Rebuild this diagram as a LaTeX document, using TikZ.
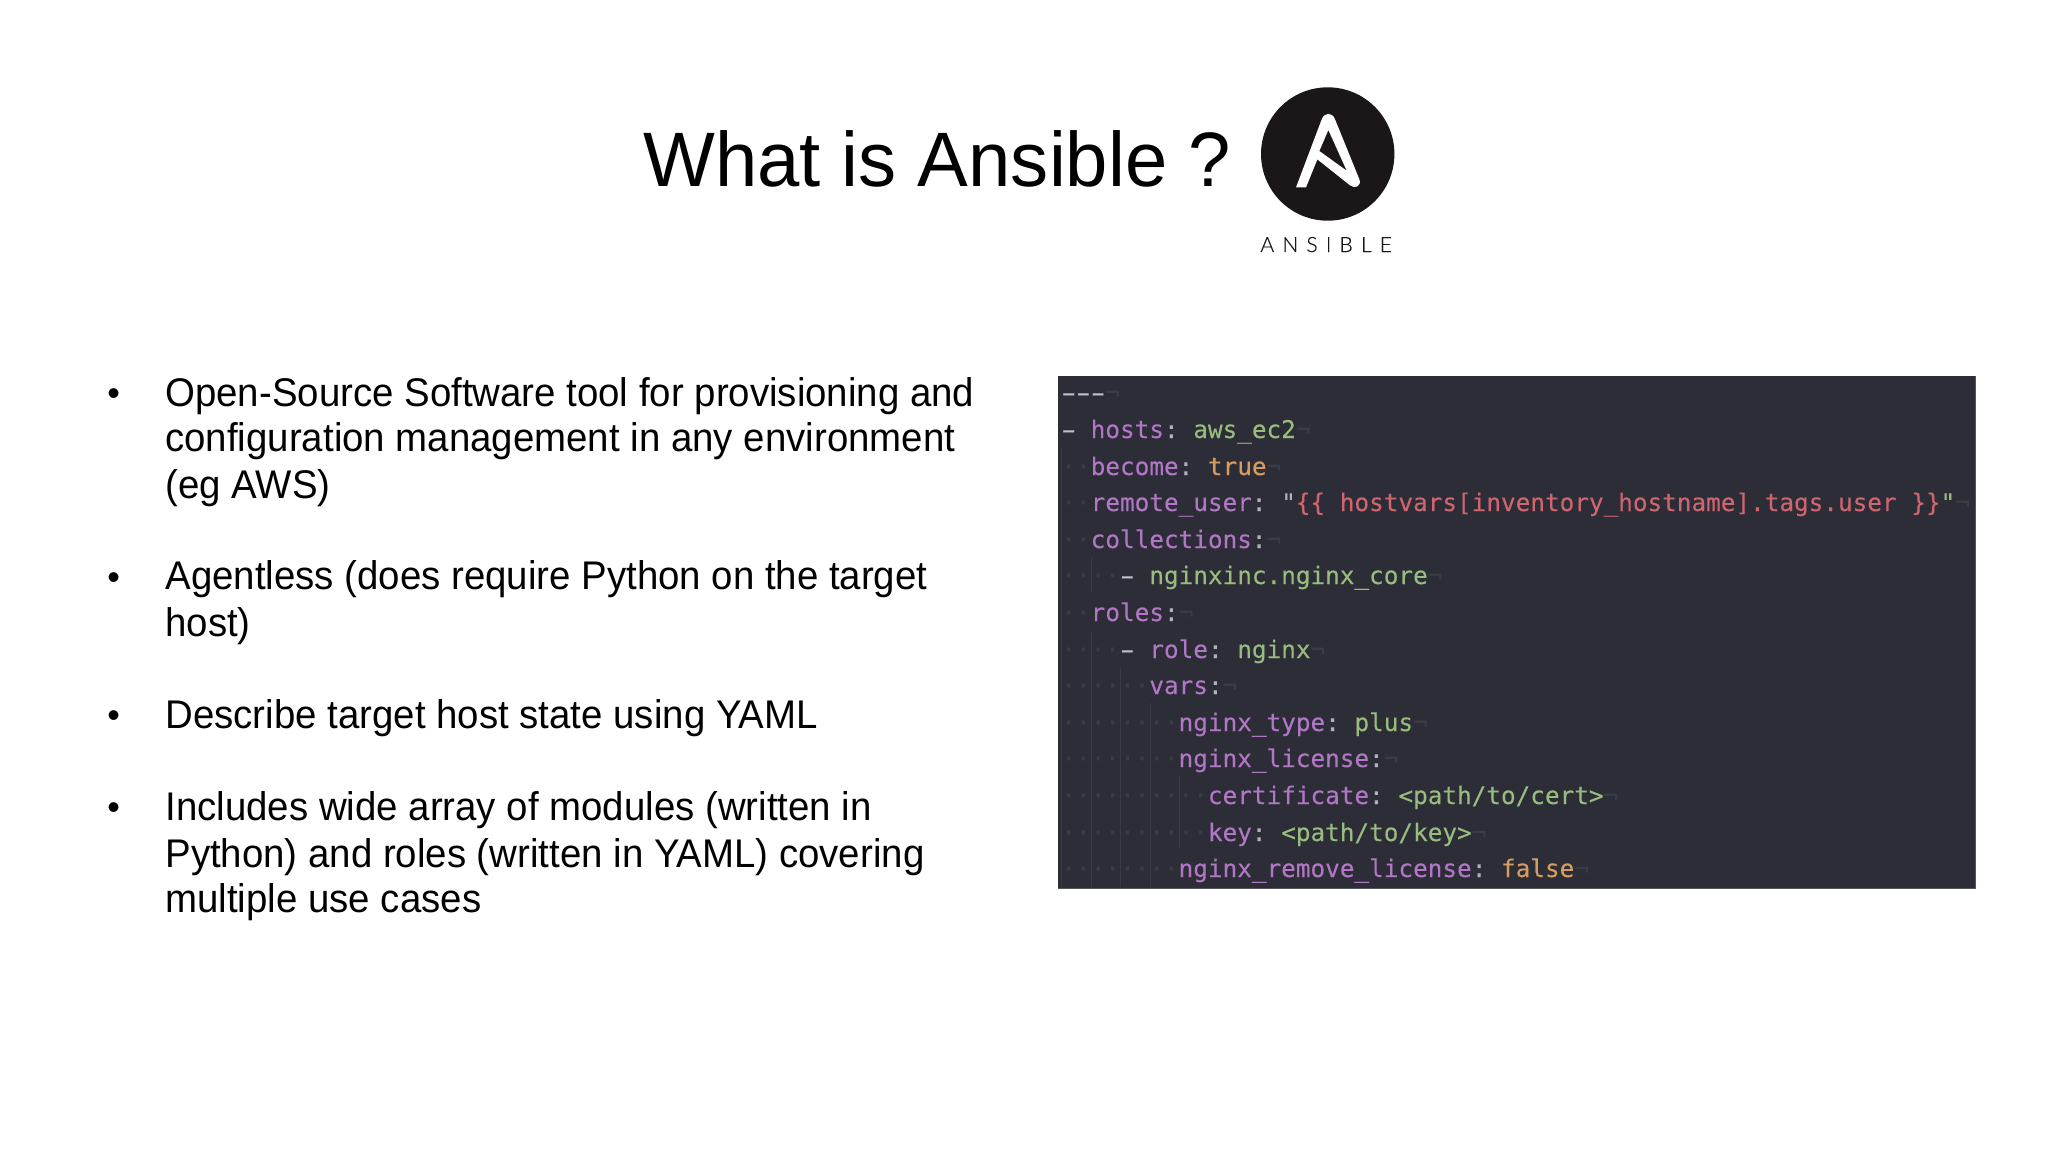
\documentclass[tikz,border=0pt]{standalone}
\usepackage{graphicx}
\usepackage{fontspec}
\setmainfont{Liberation Sans}
\newfontfamily\titlefont[FakeStretch=0.985]{Liberation Sans}
\newfontfamily\bodyfont[FakeStretch=0.96]{Liberation Sans}
\newfontfamily\codefont[FakeBold=0.12]{DejaVu Sans Mono}
\newfontfamily\logofont[LetterSpace=39,FakeBold=0.4]{Lato Light}
\definecolor{panelbg}{HTML}{2C2D36}
\definecolor{panelrim}{HTML}{54565E}
\definecolor{guide}{HTML}{383A44}
\definecolor{keyc}{HTML}{B276C6}
\definecolor{strc}{HTML}{98BC7E}
\definecolor{boolc}{HTML}{D59C62}
\definecolor{tplc}{HTML}{CF656F}
\definecolor{punc}{HTML}{B0B3BA}
\definecolor{dashc}{HTML}{C0C2C7}
\definecolor{inv}{HTML}{393C46}
\definecolor{logoc}{HTML}{1B1718}
\newcommand{\Kk}[1]{\textcolor{keyc}{#1}}
\newcommand{\Ss}[1]{\textcolor{strc}{#1}}
\newcommand{\Bb}[1]{\textcolor{boolc}{#1}}
\newcommand{\Tt}[1]{\textcolor{tplc}{#1}}
\newcommand{\Pp}[1]{\textcolor{punc}{#1}}
\newcommand{\Ii}[1]{\textcolor{inv}{#1}}
\newcommand{\Eol}{\Ii{¬}}
\newcommand{\Dd}{\textcolor{dashc}{\makebox[0.602em]{\scalebox{1.7}[1]{-}}}}
\tikzset{
  x=0.5pt,y=-0.5pt,
  titletext/.style={anchor=base west,inner sep=0pt,font=\titlefont\fontsize{38.6pt}{38.6pt}\selectfont,text=black},
  bodytext/.style={anchor=base west,inner sep=0pt,font=\bodyfont\fontsize{20pt}{20pt}\selectfont,text=black},
  bullettext/.style={anchor=base west,inner sep=0pt,font=\fontsize{18pt}{18pt}\selectfont,text=black},
  codeline/.style={anchor=base west,inner sep=0pt,font=\codefont\fontsize{12.17pt}{12.17pt}\selectfont\frenchspacing},
  guideline/.style={draw=guide,line width=0.4pt},
  logotext/.style={anchor=base west,inner sep=0pt,font=\logofont\fontsize{10.5pt}{10.5pt}\selectfont,text=logoc},
}
\begin{document}
\begin{tikzpicture}
\useasboundingbox (0,0) rectangle (2048,1152);
\fill[white] (0,0) rectangle (2048,1152);
% title
\node[titletext] (title) at (643,186.5) {What is Ansible ?};
% logo
\fill[logoc] (1327.7,154) circle[radius=66.7];
\begin{scope}[shift={(1240,70)},x=0.1667pt,y=-0.1667pt]
\fill[white,even odd rule]
 (168,352) -- (198,352) -- (232,268) -- (330,346) .. controls (345,358) and (365,348) .. (358,328)
 -- (285,148) .. controls (277,126) and (253,126) .. (245,148) -- cycle
 (265,180) -- (238,243) -- (320,302) -- cycle;
\end{scope}
\node[logotext] (logotxt) at (1260,252) {ANSIBLE};
% bullets
\node[bullettext] (bula) at (107,405) {•};
\node[bullettext] (bulb) at (107,589) {•};
\node[bullettext] (bulc) at (107,727) {•};
\node[bullettext] (buld) at (107,819) {•};
\node[bodytext] (l1) at (165,406) {Open-Source Software tool for provisioning and};
\node[bodytext] (l2) at (165,451.5) {configuration management in any environment};
\node[bodytext] (l3) at (165,498) {(eg AWS)};
\node[bodytext] (l4) at (165,589) {Agentless (does require Python on the target};
\node[bodytext] (l5) at (165,636.5) {host)};
\node[bodytext] (l6) at (165,728) {Describe target host state using YAML};
\node[bodytext] (l7) at (165,820) {Includes wide array of modules (written in};
\node[bodytext] (l8) at (165,867) {Python) and roles (written in YAML) covering};
\node[bodytext] (l9) at (165,912) {multiple use cases};
% code panel
\fill[panelbg] (1058,376) rectangle (1975,888);
\draw[panelrim,line width=0.5pt] (1058,888) -- (1975,888) -- (1975,376);
\draw[guideline] (1061,448) -- (1061,887);
\draw[guideline] (1091,557) -- (1091,593);
\draw[guideline] (1091,632) -- (1091,887);
\draw[guideline] (1120,668) -- (1120,887);
\draw[guideline] (1150,703) -- (1150,887);
\draw[guideline] (1179,775) -- (1179,848);
\node[codeline] (c0) at (1061,401) {\Dd\Dd\Dd\Eol};
\node[codeline] (c1) at (1061,438) {\Dd{} \Kk{hosts}\Pp{:} \Ss{aws\_ec2}\Eol};
\node[codeline] (c2) at (1061,475) {\Ii{··}\Kk{become}\Pp{:} \Bb{true}\Eol};
\node[codeline] (c3) at (1061,511) {\Ii{··}\Kk{remote\_user}\Pp{:} \Pp{"}\Tt{\{\{ hostvars[inventory\_hostname].tags.user \}\}}\Ss{"}\Eol};
\node[codeline] (c4) at (1061,548) {\Ii{··}\Kk{collections}\Pp{:}\Eol};
\node[codeline] (c5) at (1061,584) {\Ii{····}\Dd{} \Ss{nginxinc.nginx\_core}\Eol};
\node[codeline] (c6) at (1061,621) {\Ii{··}\Kk{roles}\Pp{:}\Eol};
\node[codeline] (c7) at (1061,658) {\Ii{····}\Dd{} \Kk{role}\Pp{:} \Ss{nginx}\Eol};
\node[codeline] (c8) at (1061,694) {\Ii{······}\Kk{vars}\Pp{:}\Eol};
\node[codeline] (c9) at (1061,731) {\Ii{········}\Kk{nginx\_type}\Pp{:} \Ss{plus}\Eol};
\node[codeline] (c10) at (1061,767) {\Ii{········}\Kk{nginx\_license}\Pp{:}\Eol};
\node[codeline] (c11) at (1061,804) {\Ii{··········}\Kk{certificate}\Pp{:} \Ss{<path/to/cert>}\Eol};
\node[codeline] (c12) at (1061,841) {\Ii{··········}\Kk{key}\Pp{:} \Ss{<path/to/key>}\Eol};
\node[codeline] (c13) at (1061,877) {\Ii{········}\Kk{nginx\_remove\_license}\Pp{:} \Bb{false}\Eol};
\end{tikzpicture}
\end{document}
